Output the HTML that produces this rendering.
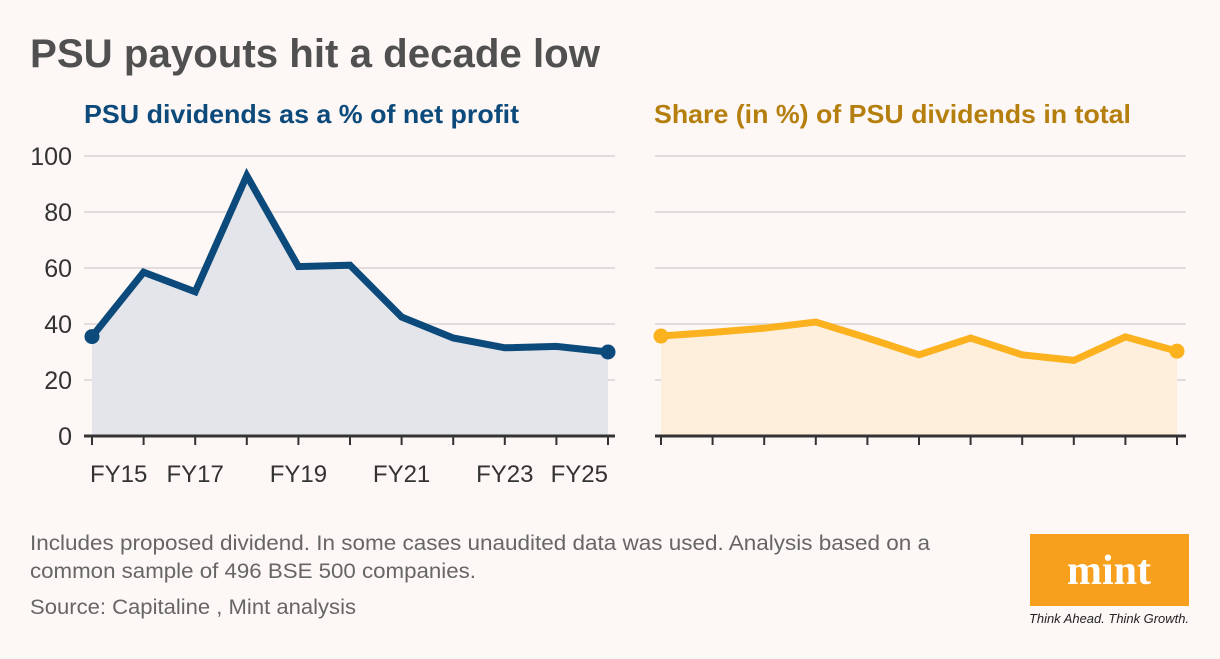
<!DOCTYPE html>
<html><head><meta charset="utf-8"><style>
body{margin:0;background:#fdf7f6;width:1220px;height:654px;overflow:hidden;font-family:"Liberation Sans",sans-serif}
</style></head><body>
<svg width="1220" height="654" xmlns="http://www.w3.org/2000/svg">
<rect width="1220" height="654" fill="#fdf7f6"/>
<text x="30" y="67" font-size="40" font-weight="bold" fill="#505050" textLength="570" lengthAdjust="spacingAndGlyphs">PSU payouts hit a decade low</text>
<text x="84" y="123" font-size="26" font-weight="bold" fill="#0b4a7a" textLength="435" lengthAdjust="spacingAndGlyphs">PSU dividends as a % of net profit</text>
<text x="654" y="123" font-size="26" font-weight="bold" fill="#b57f0e" textLength="477" lengthAdjust="spacingAndGlyphs">Share (in %) of PSU dividends in total</text>
<g id="left"></g><g id="right"></g>
<text x="30" y="550" font-size="21" fill="#666" textLength="900" lengthAdjust="spacingAndGlyphs">Includes proposed dividend. In some cases unaudited data was used. Analysis based on a</text>
<text x="30" y="578" font-size="21" fill="#666" textLength="446" lengthAdjust="spacingAndGlyphs">common sample of 496 BSE 500 companies.</text>
<text x="30" y="614" font-size="21" fill="#666" textLength="326" lengthAdjust="spacingAndGlyphs">Source: Capitaline , Mint analysis</text>
<g>
<rect x="1030" y="534" width="159" height="72" fill="#f6a01e"/>
<text x="1109" y="584" font-size="42" font-weight="bold" fill="#fff" text-anchor="middle" font-family="Liberation Serif,serif">mint</text>
<text x="1109" y="623" font-size="13" font-style="italic" fill="#222" text-anchor="middle" textLength="160" lengthAdjust="spacingAndGlyphs">Think Ahead. Think Growth.</text>
</g>
</svg>
<script>
const years=["FY15","FY16","FY17","FY18","FY19","FY20","FY21","FY22","FY23","FY24","FY25"];
const payoutValues=[35.5,58.5,51.5,93,60.5,61,42.5,35,31.5,32,30];
const shareValues=[35.7,37,38.5,40.7,35,29,35,29,27,35.4,30.3];
const yTicks=[0,20,40,60,80,100];
const xLabels=["FY15","FY17","FY19","FY21","FY23","FY25"];
const NS="http://www.w3.org/2000/svg";
function mk(p,t,a){const e=document.createElementNS(NS,t);for(const k in a)e.setAttribute(k,a[k]);p.appendChild(e);return e;}
const yS=v=>436-v*2.8;
function draw(g,x0,vals,line,fill,showY,showX,gl0,gl1){
  const xS=i=>x0+i*51.6;
  yTicks.forEach(t=>{if(t>0){const l=mk(g,'line',{x1:gl0,x2:gl1,y1:yS(t),y2:yS(t),stroke:'#e2dcdc','stroke-width':2});
    }
    if(showY){const tx=mk(g,'text',{x:72,y:yS(t)+9,'font-size':25,fill:'#333','text-anchor':'end'});tx.textContent=t;
    }});
  let d='M'+xS(0)+','+yS(0);vals.forEach((v,i)=>d+=' L'+xS(i)+','+yS(v));d+=' L'+xS(vals.length-1)+','+yS(0)+'Z';
  const a=mk(g,'path',{d:d,fill:fill});
  const ax=mk(g,'line',{x1:gl0,x2:gl1,y1:436,y2:436,stroke:'#333','stroke-width':3});
  
  vals.forEach((v,i)=>{const t=mk(g,'line',{x1:xS(i),x2:xS(i),y1:436,y2:445,stroke:'#333','stroke-width':2});
    });
  const pts=vals.map((v,i)=>xS(i)+','+yS(v)).join(' ');
  const pl=mk(g,'polyline',{points:pts,fill:'none',stroke:line,'stroke-width':7,'stroke-linejoin':'miter'});
  
  [0,vals.length-1].forEach(i=>{const c=mk(g,'circle',{cx:xS(i),cy:yS(vals[i]),r:7.5,fill:line});
    });
  if(showX){xLabels.forEach((lab,k)=>{const i=years.indexOf(lab);let anc='middle';if(i===0)anc='start';if(i===years.length-1)anc='end';
    const tx=mk(g,'text',{x:xS(i)+(i===0?-2:0),y:482,'font-size':24,fill:'#333','text-anchor':anc});tx.textContent=lab;
    });}
}
draw(document.getElementById('left'),92,payoutValues,'#0b4a7a','#e3e5eb',true,true,84,615);
draw(document.getElementById('right'),661,shareValues,'#fbb21e','#fdefdc',false,false,655,1186);
</script>
</body></html>
